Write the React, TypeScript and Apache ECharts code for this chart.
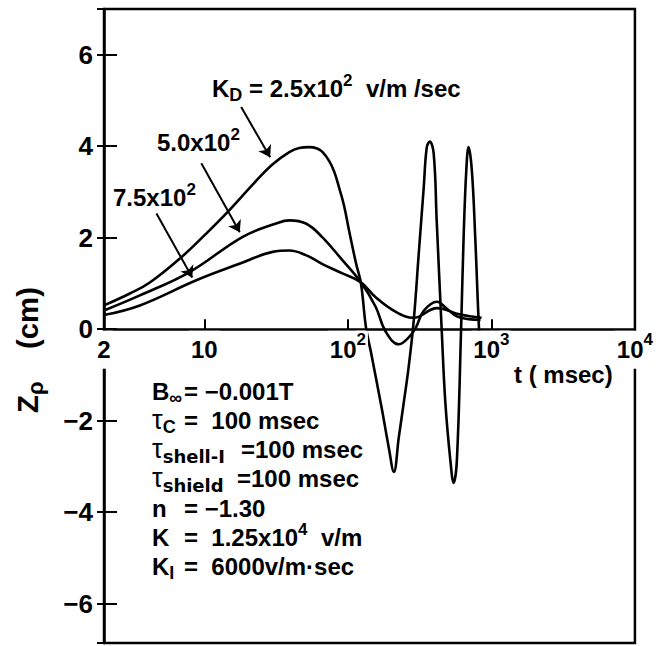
import React, { useEffect, useRef } from "react";
import * as echarts from "echarts";

const FONT = "'Liberation Sans', Arial, Helvetica, sans-serif";
const WIDE_FONT = "'DejaVu Sans', 'Liberation Sans', sans-serif";

// K_D = 2.5x10^2 v/m/sec
const T_KD250 = [2, 3.03, 4.17, 7.07, 10, 14.5, 22.3, 29.8, 39.1, 45.8, 53.8, 61.1, 66.2, 74, 80.2, 86.8, 94.1, 102, 114, 123.4, 133.7, 144.8, 172.7, 193.1, 209.2, 226.5, 245.3, 265.8, 287.9, 311.9, 337.8, 354.4, 371.8, 396.3, 415.8, 450.4, 477.7, 517.5, 545.7, 575, 615, 640.3, 668.4, 693.5, 730.9, 771.8, 822.7, 840];
const Z_KD250 = [0.52, 0.78, 1.02, 1.6, 2.05, 2.56, 3.2, 3.6, 3.87, 3.96, 3.98, 3.95, 3.88, 3.68, 3.45, 3.1, 2.7, 2.15, 1.44, 1.0, 0.04, -0.5, -1.75, -2.6, -3.12, -2.36, -1.6, -0.8, 0.2, 1.66, 3.1, 3.97, 4.1, 3.84, 2.38, 0.0, -1.6, -2.86, -3.36, -2.86, 0.0, 2.0, 3.47, 3.98, 3.47, 2.0, -0.09, -0.3];

// K_D = 5.0x10^2
const T_KD500 = [2, 3.555, 7.9, 18.52, 31.59, 39.1, 51.0, 66.0, 91.6, 122.8, 156.1, 183.2, 226.5, 261.6, 295.8, 337.8, 417.8, 487.7, 575, 693.5, 840];
const Z_KD500 = [0.41, 0.74, 1.25, 2.02, 2.31, 2.38, 2.31, 2.02, 1.51, 1.03, 0.49, -0.05, -0.33, -0.2, 0.02, 0.4, 0.6, 0.45, 0.28, 0.22, 0.2];

// K_D = 7.5x10^2
const T_KD750 = [2, 3.555, 8.8, 17.57, 29.92, 39.1, 51.0, 66.0, 91.6, 122.8, 156.1, 215.9, 287.9, 417.8, 607.2, 853.5];
const Z_KD750 = [0.31, 0.52, 1.07, 1.43, 1.69, 1.72, 1.62, 1.43, 1.22, 1.03, 0.7, 0.38, 0.25, 0.46, 0.32, 0.25];

const X_MIN = 2;
const X_MAX = 10000;
const Y_MIN = -6.86;
const Y_MAX = 7;
const X_TICK_VALUES = [2, 10, 100, 1000, 10000];
const X_TICK_LABELS = ["2", "10", "10{sup|2}", "10{sup|3}", "10{sup|4}"];
const Y_TICK_VALUES = [-6, -4, -2, 0, 2, 4, 6];

const X_TITLE = "t ( msec)";
const Y_TITLE = "Z{sub|ρ}    (cm)";

const CURVE_LABELS = ["K{sub|D} = 2.5x10{sup|2}  v/m /sec", "5.0x10{sup|2}", "7.5x10{sup|2}"];
// arrows: [start [t, z], end [t, z]]
const ARROWS: number[][][] = [
  [[18.06, 4.86], [28.74, 3.76]],
  [[9.53, 3.63], [17.66, 2.12]],
  [[4.64, 2.53], [8.24, 1.13]],
];

const PARAM_NAMES = ["B{sub|∞}", "{tau|τ}{sub|C}", "{tau|τ}{subw|shell-I}", "{tau|τ}{subw|shield}", "n", "K", "K{sub|I}"];
const PARAM_VALUES = ["= −0.001T", "=  100 msec", "=100 msec", "=100 msec", "= −1.30", "=  1.25x10{sup|4}  v/m", "=  6000v/m·sec"];

// layout (pixels)
const W = 658;
const H = 646;
const GRID = { left: 104, right: 21, top: 9, bottom: 3 };

type SegStyle = { size: number; family: string; weight: string; dy: number };
const SEG_STYLES: Record<string, SegStyle> = {
  main: { size: 24, family: FONT, weight: "bold", dy: 0 },
  sub: { size: 18, family: FONT, weight: "bold", dy: 7 },
  subw: { size: 18, family: WIDE_FONT, weight: "bold", dy: 7 },
  sup: { size: 17, family: FONT, weight: "bold", dy: -8 },
  tau: { size: 27, family: FONT, weight: "normal", dy: 0 },
};

function parseMarkup(m: string) {
  const segs: { style: string; text: string }[] = [];
  const re = /\{(\w+)\|([^}]*)\}/g;
  let last = 0;
  let match: RegExpExecArray | null;
  while ((match = re.exec(m))) {
    if (match.index > last) segs.push({ style: "main", text: m.slice(last, match.index) });
    segs.push({ style: match[1], text: match[2] });
    last = re.lastIndex;
  }
  if (last < m.length) segs.push({ style: "main", text: m.slice(last) });
  return segs;
}

export default function App() {
  const ref = useRef<HTMLDivElement>(null);

  useEffect(() => {
    document.body.style.margin = "0";
    const el = ref.current;
    if (!el) return;
    const chart = echarts.init(el, null, { renderer: "svg" });

    const ctx = document.createElement("canvas").getContext("2d") as CanvasRenderingContext2D;
    const measure = (text: string, st: SegStyle, scale: number) => {
      ctx.font = `${st.weight} ${st.size * scale}px ${st.family}`;
      return ctx.measureText(text).width;
    };

    const richGroup = (markup: string, x: number, y: number, opts: any = {}) => {
      const scale = opts.scale || 1;
      const segs = parseMarkup(markup);
      const widths = segs.map((s) => measure(s.text, SEG_STYLES[s.style], scale));
      const total = widths.reduce((a, b) => a + b, 0);
      let cx = opts.align === "center" ? -total / 2 : 0;
      const children: any[] = [];
      segs.forEach((s, i) => {
        const st = SEG_STYLES[s.style];
        const trimmedStart = s.text.replace(/^\s+/, "");
        const lead = s.text.length - trimmedStart.length;
        const leadW = lead > 0 ? measure(s.text.slice(0, lead), st, scale) : 0;
        const body = trimmedStart.replace(/\s+$/, "");
        if (body.length) {
          children.push({
            type: "text",
            x: cx + leadW,
            y: st.dy * scale,
            silent: true,
            style: {
              text: body,
              fontSize: st.size * scale,
              fontWeight: st.weight,
              fontFamily: st.family,
              fill: "#000",
              align: "left",
              verticalAlign: "middle",
              textAlign: "left",
              textVerticalAlign: "middle",
            },
          });
        }
        cx += widths[i];
      });
      return { type: "group", x, y, rotation: opts.rotation || 0, z: 100, silent: true, children };
    };

    const plotH = H - GRID.top - GRID.bottom;
    const zeroY = GRID.top + (plotH * Y_MAX) / (Y_MAX - Y_MIN);
    const xAxisOffset = -(H - GRID.bottom - zeroY);

    const labelPos = [
      [212, 88],
      [157, 142],
      [113, 197],
    ];
    const paramY = [391, 420, 449, 478, 508, 537, 566];
    const valueX = [184, 184, 241, 237, 184, 184, 184];

    const graphics: any[] = [];
    CURVE_LABELS.forEach((t, i) => graphics.push(richGroup(t, labelPos[i][0], labelPos[i][1])));
    PARAM_NAMES.forEach((t, i) => graphics.push(richGroup(t, 152, paramY[i])));
    PARAM_VALUES.forEach((t, i) => graphics.push(richGroup(t, valueX[i], paramY[i])));
    graphics.push(richGroup(X_TITLE, 514, 374));
    graphics.push(richGroup(Y_TITLE, 27, 350, { align: "center", rotation: Math.PI / 2, scale: 1.22 }));

    const xLabel = (v: number) => {
      let best = 0;
      let bd = Infinity;
      X_TICK_VALUES.forEach((tv, i) => {
        const d = Math.abs(Math.log10(v) - Math.log10(tv));
        if (d < bd) {
          bd = d;
          best = i;
        }
      });
      return bd < 0.01 ? X_TICK_LABELS[best] : "";
    };
    const yLabel = (v: number) => {
      const r = Math.round(v);
      if (Math.abs(v - r) > 1e-6 || !Y_TICK_VALUES.includes(r)) return "";
      return String(r).replace("-", "−");
    };

    const lineSeries = (name: string, ts: number[], zs: number[], extra: any = {}) => ({
      name,
      type: "line",
      data: ts.map((t, i) => [t, zs[i]]),
      smooth: 0.4,
      showSymbol: false,
      symbol: "none",
      lineStyle: { color: "#000", width: 2.6 },
      itemStyle: { color: "#000" },
      z: 2,
      silent: true,
      ...extra,
    });

    const option: any = {
      animation: false,
      backgroundColor: "#fff",
      grid: {
        ...GRID,
        show: true,
        borderColor: "#000",
        borderWidth: 2.5,
        backgroundColor: "transparent",
      },
      xAxis: {
        type: "log",
        logBase: 10,
        min: X_MIN,
        max: X_MAX,
        position: "bottom",
        offset: xAxisOffset,
        z: 10,
        axisLine: { show: true, onZero: false, lineStyle: { color: "#000", width: 2.5 } },
        axisTick: { show: true, inside: true, length: 10, lineStyle: { color: "#000", width: 2 } },
        minorTick: { show: false },
        splitLine: { show: false },
        axisLabel: {
          show: true,
          interval: 0,
          showMinLabel: true,
          showMaxLabel: true,
          margin: 1.5,
          fontSize: 24,
          fontWeight: "bold",
          lineHeight: 38,
          fontFamily: FONT,
          color: "#000",
          backgroundColor: "#fff",
          padding: [0, 2, 0, 2],
          formatter: xLabel,
          rich: {
            sup: { fontSize: 17, fontWeight: "bold", lineHeight: 14, verticalAlign: "top", fontFamily: FONT, color: "#000", backgroundColor: "#fff" },
          },
        },
      },
      yAxis: [
        {
          type: "value",
          min: Y_MIN,
          max: Y_MAX,
          splitNumber: 7,
          position: "left",
          axisLine: { show: true, onZero: false, lineStyle: { color: "#000", width: 2.5 } },
          axisTick: { show: true, inside: true, length: 13, lineStyle: { color: "#000", width: 2 } },
          splitLine: { show: false },
          axisLabel: { show: true, margin: 11, fontSize: 26, fontWeight: "bold", fontFamily: FONT, color: "#000", formatter: yLabel },
        },
        {
          type: "value",
          min: Y_MIN,
          max: Y_MAX,
          splitNumber: 7,
          position: "left",
          axisLine: { show: false, onZero: false },
          axisTick: { show: true, inside: false, length: 7, lineStyle: { color: "#000", width: 2 } },
          splitLine: { show: false },
          axisLabel: { show: false },
        },
      ],
      series: [
        lineSeries("K_D = 2.5x10^2", T_KD250, Z_KD250, {
          markLine: {
            silent: true,
            animation: false,
            symbol: ["none", "arrow"],
            symbolSize: 11,
            label: { show: false },
            lineStyle: { color: "#000", width: 2, type: "solid" },
            emphasis: { disabled: true },
            data: ARROWS.map((a) => [{ coord: a[0] }, { coord: a[1] }]),
          },
        }),
        lineSeries("K_D = 5.0x10^2", T_KD500, Z_KD500),
        lineSeries("K_D = 7.5x10^2", T_KD750, Z_KD750),
      ],
      graphic: graphics,
    };

    chart.setOption(option);
    return () => chart.dispose();
  }, []);

  return <div ref={ref} style={{ width: W, height: H, background: "#fff" }} />;
}
